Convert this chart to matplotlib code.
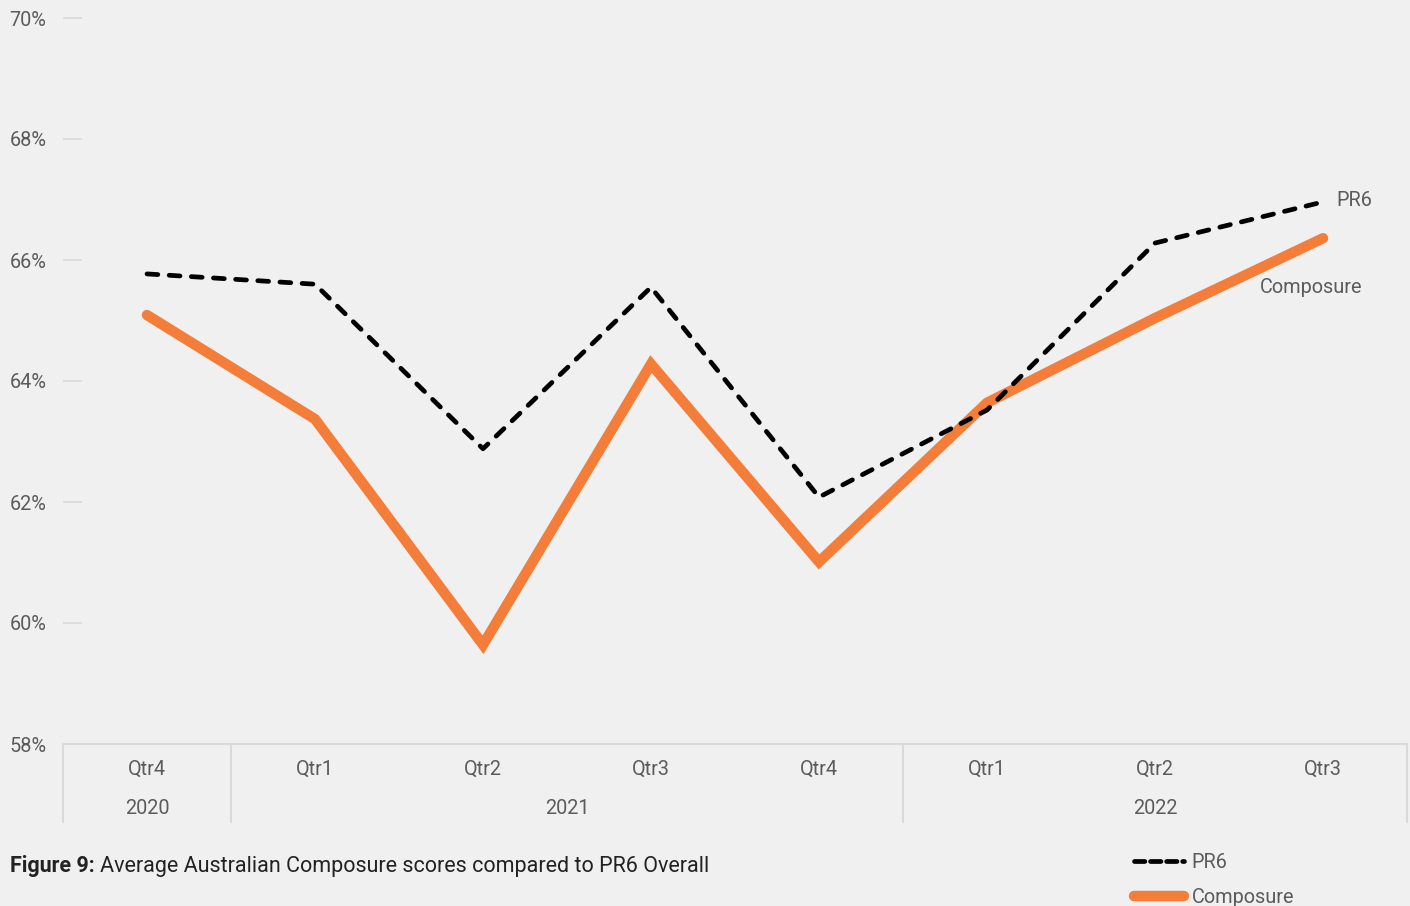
import matplotlib.pyplot as plt
from matplotlib.lines import Line2D
import matplotlib.transforms as mtransforms

plt.rcParams['font.family'] = ['Roboto', 'DejaVu Sans']

# Quarterly scores (%)
quarters = ['Qtr4', 'Qtr1', 'Qtr2', 'Qtr3', 'Qtr4', 'Qtr1', 'Qtr2', 'Qtr3']
years = ['2020', '2021', '2022']
year_spans = [(0, 0), (1, 4), (5, 7)]  # first and last quarter index for each year
pr6 = [65.77, 65.60, 62.88, 65.55, 62.08, 63.52, 66.28, 66.96]
composure = [65.09, 63.37, 59.64, 64.28, 61.01, 63.64, 65.04, 66.36]

bg = '#eff0ef'
grey_txt = '#5b5b5b'
rule = '#d9d9d9'
orange = '#f47d3a'
fs = 14.3

fig = plt.figure(figsize=(14.1, 9.06), dpi=100, facecolor=bg)
ax = fig.add_axes([63 / 1410, 1 - 744 / 906, 1344 / 1410, 726 / 906], facecolor=bg)

x = list(range(len(quarters)))
ax.plot(x, composure, color=orange, lw=7.5, solid_capstyle='round',
        solid_joinstyle='miter', label='Composure', zorder=2)
ax.plot(x, pr6, color='black', lw=3.4, linestyle=(0, (2.3, 2.4)),
        dash_capstyle='round', label='PR6', zorder=3)

ax.set_xlim(-0.5, len(quarters) - 0.5)
ax.set_ylim(58, 70)
ax.set_yticks(range(58, 71, 2))
ax.set_yticklabels([f'{v}%' for v in range(58, 71, 2)])
ax.tick_params(axis='y', direction='in', length=13.5, width=1.2, color=rule,
               labelsize=fs, labelcolor=grey_txt, pad=12)
ax.set_xticks(x)
ax.set_xticklabels(quarters)
ax.tick_params(axis='x', length=0, labelsize=fs, labelcolor=grey_txt, pad=11)

for side in ['left', 'right', 'top']:
    ax.spines[side].set_visible(False)
ax.spines['bottom'].set_color(rule)
ax.spines['bottom'].set_linewidth(1.5)

# year grouping under the quarter labels
trans = mtransforms.blended_transform_factory(ax.transData, ax.transAxes)
for yr, (a, b) in zip(years, year_spans):
    ax.text((a + b) / 2, -0.0885, yr, transform=trans, ha='center', va='center',
            fontsize=fs, color=grey_txt)
for sep in [-0.5] + [b + 0.5 for _, b in year_spans]:
    ax.add_line(Line2D([sep, sep], [0, -0.107], transform=trans, color=rule,
                       lw=1.5, clip_on=False))

# series labels at the line ends
ax.annotate('PR6', (x[-1], pr6[-1]), xytext=(13, 1), textcoords='offset pixels',
            ha='left', va='center', fontsize=fs, color=grey_txt)
ax.annotate('Composure', (x[-1], composure[-1]), xytext=(-12, -49),
            textcoords='offset pixels', ha='center', va='center',
            fontsize=fs, color=grey_txt)

handles = [Line2D([], [], color='black', lw=3.4, linestyle=(0, (2.2, 1.2)),
                  dash_capstyle='round'),
           Line2D([], [], color=orange, lw=7.5, solid_capstyle='round')]
fig.legend(handles, ['PR6', 'Composure'], loc='upper left',
           bbox_to_anchor=(1134 / 1410, 1 - 853 / 906), frameon=False,
           fontsize=fs, labelcolor=grey_txt, handlelength=2.5,
           handletextpad=0.4, labelspacing=0.82, borderpad=0, borderaxespad=0)

# caption
cap = fig.text(10 / 1410, 1 - 866 / 906, 'Figure 9:', fontsize=15.5, weight='bold',
               color='#222222', ha='left', va='center')
ax.annotate('Average Australian Composure scores compared to PR6 Overall',
            xy=(1, 0), xycoords=cap, xytext=(5, 0), textcoords='offset pixels',
            ha='left', va='bottom', fontsize=15.5, color='#222222')

fig.savefig('out.png', dpi=100, facecolor=bg)
